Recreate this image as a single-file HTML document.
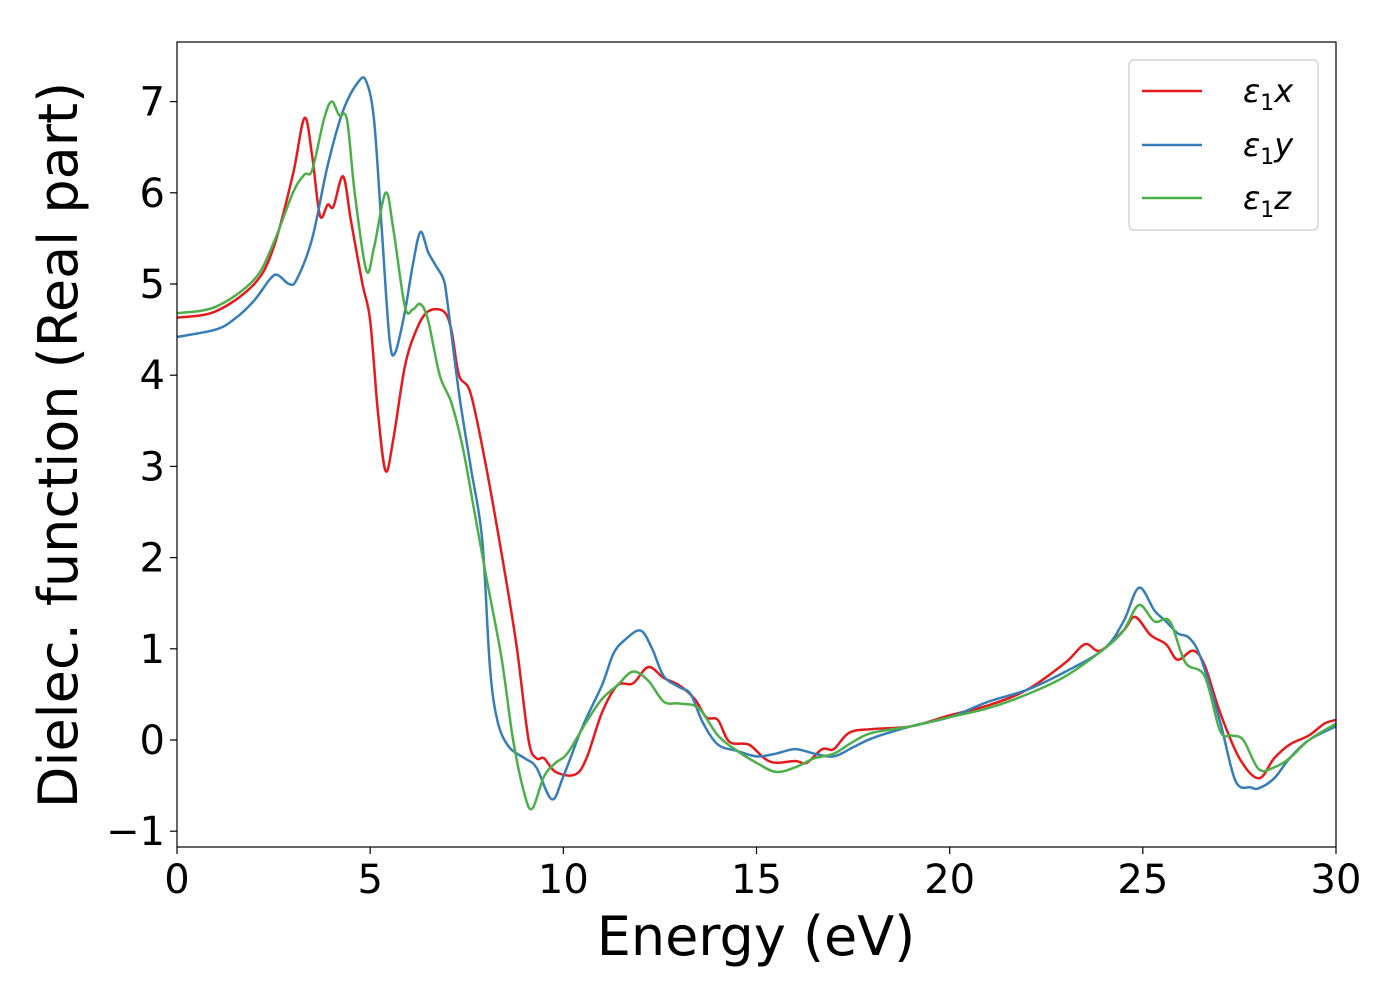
<!DOCTYPE html>
<html><head><meta charset="utf-8"><style>
body{margin:0;background:#fff;}
svg text{font-family:"DejaVu Sans","Liberation Sans",sans-serif;}
</style></head><body>
<svg id="chart" width="1400" height="1000" xmlns="http://www.w3.org/2000/svg">
<g id="plot"></g>
</svg>
<script>
const xTicks=[0,5,10,15,20,25,30];
const yTicks=[-1,0,1,2,3,4,5,6,7];
const yTickLabels=["\u22121","0","1","2","3","4","5","6","7"];
const seriesNames=["x","y","z"];
const seriesColors=["#e41a1c","#377eb8","#4daf4a"];
const energyX=[0,1,2,2.5,3,3.3,3.5,3.7,3.9,4.05,4.3,4.5,4.8,5.0,5.2,5.4,5.6,5.9,6.2,6.5,6.9,7.1,7.3,7.6,8.0,8.5,8.8,9.1,9.3,9.5,9.8,10.3,10.6,11.0,11.4,11.8,12.2,12.6,13.0,13.4,13.7,14.0,14.3,14.8,15.2,15.5,16,16.3,16.7,17,17.4,18,19,20,21,22,23,23.5,23.9,24.5,24.8,25.2,25.6,25.9,26.3,26.6,27,27.5,28,28.4,28.8,29.3,29.7,30];
const valuesX=[4.63,4.7,5.0,5.4,6.2,6.82,6.4,5.75,5.87,5.85,6.18,5.7,5.0,4.6,3.6,2.95,3.3,4.1,4.5,4.7,4.7,4.5,4.0,3.8,3.0,1.8,1.0,0.0,-0.2,-0.2,-0.35,-0.38,-0.2,0.3,0.6,0.62,0.8,0.68,0.6,0.45,0.25,0.22,-0.02,-0.05,-0.2,-0.25,-0.23,-0.25,-0.1,-0.1,0.08,0.12,0.15,0.27,0.38,0.55,0.85,1.05,0.98,1.2,1.35,1.15,1.05,0.88,0.98,0.82,0.3,-0.2,-0.42,-0.2,-0.05,0.05,0.18,0.22];
const energyY=[0,1,1.5,2,2.4,2.6,2.9,3.1,3.5,3.9,4.3,4.7,4.9,5.1,5.3,5.5,5.65,5.9,6.1,6.3,6.5,6.7,6.9,7.0,7.3,7.6,7.9,8.1,8.3,8.6,9.0,9.3,9.7,10.0,10.5,11,11.3,11.6,12.0,12.3,12.6,13,13.3,13.6,14.0,14.5,15,15.5,16,16.5,17,17.5,18,19,20,21,22,23,24,24.5,24.9,25.3,25.6,25.9,26.2,26.5,27,27.4,27.8,28,28.4,28.8,29.3,30];
const valuesY=[4.42,4.5,4.62,4.82,5.05,5.1,5.0,5.05,5.5,6.3,6.9,7.22,7.22,6.8,5.6,4.4,4.25,4.7,5.2,5.57,5.35,5.2,5.05,4.8,3.8,3.0,2.2,0.8,0.2,-0.08,-0.2,-0.3,-0.65,-0.4,0.15,0.6,0.95,1.1,1.2,1.0,0.7,0.58,0.5,0.2,-0.05,-0.12,-0.18,-0.15,-0.1,-0.15,-0.18,-0.08,0.02,0.15,0.25,0.42,0.55,0.75,1.0,1.3,1.67,1.42,1.3,1.17,1.12,0.9,0.2,-0.45,-0.52,-0.53,-0.42,-0.2,0.0,0.15];
const energyZ=[0,1,2,2.5,3,3.3,3.5,3.8,4.0,4.2,4.4,4.6,4.9,5.1,5.4,5.6,5.9,6.1,6.3,6.5,6.8,7.1,7.4,7.7,8.0,8.4,8.7,9.0,9.2,9.5,9.8,10.1,10.6,11,11.4,11.8,12.2,12.6,13,13.5,14,14.5,15,15.5,16,16.5,17,17.5,18,19,20,21,22,23,24,24.5,24.9,25.3,25.7,26.1,26.6,27,27.3,27.6,28.0,28.4,28.8,29.3,30];
const valuesZ=[4.68,4.75,5.05,5.45,6.0,6.2,6.25,6.8,7.0,6.85,6.8,6.0,5.15,5.4,6.0,5.6,4.75,4.72,4.78,4.6,4.0,3.7,3.2,2.5,1.8,0.9,0.0,-0.6,-0.75,-0.4,-0.25,-0.15,0.2,0.45,0.6,0.75,0.65,0.42,0.4,0.35,0.05,-0.12,-0.25,-0.35,-0.3,-0.2,-0.15,-0.02,0.08,0.15,0.25,0.35,0.5,0.7,1.0,1.2,1.48,1.3,1.3,0.85,0.7,0.1,0.05,0.0,-0.32,-0.3,-0.2,0.0,0.18];

const L=177,R=1336,T=42,B=847;
const sx=v=>L+(v-0)/30*(R-L);
const sy=v=>740-(v)*91.2;
const NS="http://www.w3.org/2000/svg";
const plot=document.getElementById('plot');
function mk(tag,attrs,parent){const e=document.createElementNS(NS,tag);for(const k in attrs)e.setAttribute(k,attrs[k]);(parent||plot).appendChild(e);return e;}
function pathFor(xs,ys){
  const p=xs.map((x,i)=>[sx(x),sy(ys[i])]);
  let d=`M${p[0][0]},${p[0][1]}`;
  for(let i=0;i<p.length-1;i++){
    const p0=p[Math.max(0,i-1)],p1=p[i],p2=p[i+1],p3=p[Math.min(p.length-1,i+2)];
    const c1=[p1[0]+(p2[0]-p0[0])/6,p1[1]+(p2[1]-p0[1])/6];
    const c2=[p2[0]-(p3[0]-p1[0])/6,p2[1]-(p3[1]-p1[1])/6];
    d+=`C${c1[0]},${c1[1]} ${c2[0]},${c2[1]} ${p2[0]},${p2[1]}`;
  }
  return d;
}
const clip=mk('clipPath',{id:'clp'});
mk('rect',{x:L,y:T,width:R-L,height:B-T},clip);
const xsAll=[energyX,energyY,energyZ],vsAll=[valuesX,valuesY,valuesZ];
for(let s=0;s<3;s++){
  const pth=mk('path',{d:pathFor(xsAll[s],vsAll[s]),fill:'none',stroke:seriesColors[s],'stroke-width':2.5,'clip-path':'url(#clp)'});
  
  
}
const frame=mk('rect',{x:L,y:T,width:R-L,height:B-T,fill:'none',stroke:'#000','stroke-width':1.2});


xTicks.forEach(t=>{
  const ln=mk('line',{x1:sx(t),x2:sx(t),y1:B,y2:B+7,stroke:'#000','stroke-width':1.2});
  
  
  const tx=mk('text',{x:sx(t),y:B+46,'text-anchor':'middle','font-size':40});
  
  
  tx.textContent=t;
});
yTicks.forEach((t,i)=>{
  const ln=mk('line',{x1:L-7,x2:L,y1:sy(t),y2:sy(t),stroke:'#000','stroke-width':1.2});
  
  
  const tx=mk('text',{x:L-12,y:sy(t)+14,'text-anchor':'end','font-size':40});
  
  
  tx.textContent=yTickLabels[i];
});
const xt=mk('text',{x:756,y:955,'text-anchor':'middle','font-size':54});


xt.textContent='Energy (eV)';
const yt=mk('text',{x:0,y:0,'text-anchor':'middle','font-size':54,transform:'translate(77,445) rotate(-90)'});


yt.textContent='Dielec. function (Real part)';
const lg=mk('g',{});


mk('rect',{x:1129,y:60,width:189,height:170,rx:5,fill:'#fff',stroke:'#ccc','stroke-width':1.2},lg);
const ly=[91,145,198];
for(let s=0;s<3;s++){
  const g=mk('g',{},lg);
  
  
  mk('line',{x1:1142,x2:1202,y1:ly[s],y2:ly[s],stroke:seriesColors[s],'stroke-width':2.5},g);
  const tx=mk('text',{x:1243,y:ly[s]+11,'font-size':32,'font-style':'italic'},g);
  tx.innerHTML='ε<tspan font-style="normal" font-size="22" dy="8">1</tspan><tspan dy="-8">'+seriesNames[s]+'</tspan>';
}
</script>
</body></html>
